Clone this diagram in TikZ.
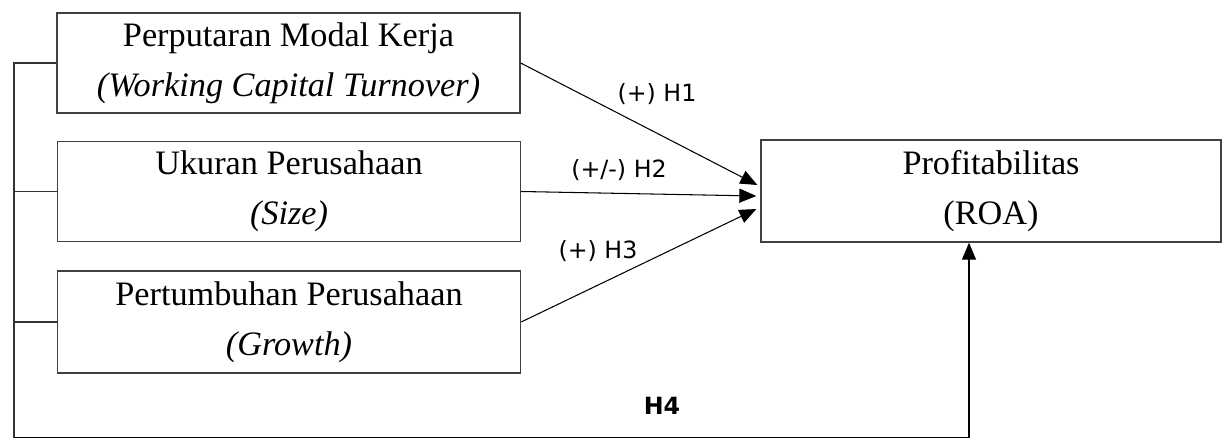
\documentclass[tikz,border=0pt]{standalone}
\usepackage{fontspec}
\setmainfont{Liberation Serif}
\newfontfamily\hypfont{DejaVu Sans}
\usetikzlibrary{arrows.meta}

\tikzset{
  var/.style={draw=black!75, line width=0.8pt, minimum width=9.26cm, minimum height=2cm,
    align=center, inner sep=0pt, font=\fontsize{19.5}{28.5}\selectfont},
  hyp/.style={font=\hypfont\fontsize{13.5}{16}\selectfont},
  link/.style={line width=0.6pt, -{Triangle[length=0.34cm,width=0.28cm]}},
  bracket/.style={draw=black!80, line width=0.8pt},
}

\begin{document}
\begin{tikzpicture}[x=0.02cm,y=-0.02cm]
  \useasboundingbox (0,0) rectangle (1222,439);
  \node[var] (wct) at (288.5,63) {Perputaran Modal Kerja\\\textit{(Working Capital Turnover)}};
  \node[var] (size) at (289,191.5) {Ukuran Perusahaan\\\textit{(Size)}};
  \node[var, minimum height=2.04cm] (growth) at (289,322) {Pertumbuhan Perusahaan\\\textit{(Growth)}};
  \node[var, minimum width=9.2cm, minimum height=2.04cm] (roa) at (991,191) {Profitabilitas\\(ROA)};
  %
  \coordinate (spine) at (14,63);
  \coordinate (base) at (14,437.5);
  \coordinate (turn) at (969,437.5);
  \draw[bracket] (wct.west) -- (spine) -- (base);
  \draw[bracket] (size.west) -- (size.west -| spine);
  \draw[bracket] (growth.west) -- (growth.west -| spine);
  \draw[link] (base) -- (turn) -- (turn |- roa.south);
  %
  \draw[link] (wct.east) -- ([xshift=-0.06cm,yshift=0.12cm]roa.west);
  \draw[link] (size.east) -- ([xshift=-0.08cm,yshift=-0.1cm]roa.west);
  \draw[link] (growth.east) -- ([xshift=-0.08cm,yshift=-0.36cm]roa.west);
  %
  \node[hyp] (h1) at (657,94) {(+) H1};
  \node[hyp] (h2) at (619,170) {(+/-) H2};
  \node[hyp] (h3) at (598,251) {(+) H3};
  \node[hyp, font=\hypfont\bfseries\fontsize{13.5}{16}\selectfont] (h4) at (662,406) {H4};
\end{tikzpicture}
\end{document}
